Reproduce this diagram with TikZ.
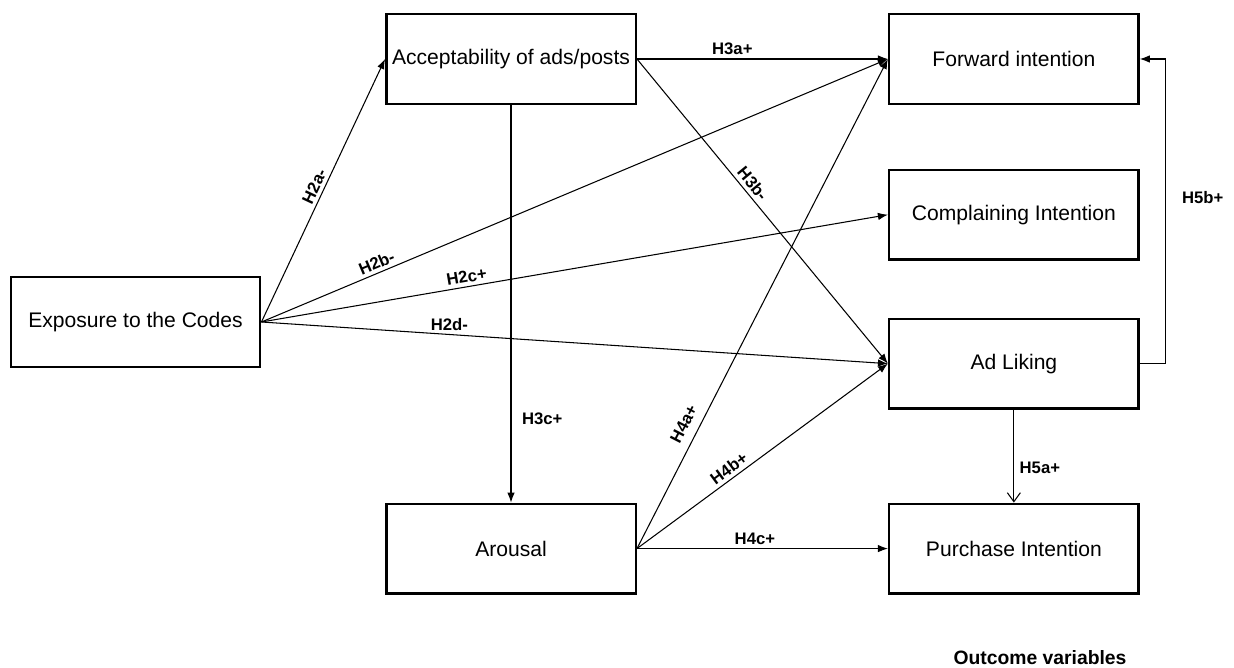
\documentclass[tikz,border=0pt]{standalone}
\usepackage{fontspec}
\setmainfont{Liberation Sans}
\usetikzlibrary{positioning,calc,arrows.meta}

\begin{document}
\begin{tikzpicture}[
  x=0.02cm, y=-0.02cm,
  >={Latex[length=2mm,width=1.5mm]},
  node distance=1.28cm and 5.02cm,
  every node/.style={font=\fontsize{12}{14}\selectfont, align=center},
  box/.style={draw, line width=1.4pt, minimum width=4.99cm, minimum height=1.79cm, inner sep=3pt},
  link/.style={->, line width=0.6pt},
  hyp/.style={font=\fontsize{9.5}{11}\selectfont\bfseries, inner sep=2pt}
]
\useasboundingbox (0,0) rectangle (1234,668);

\node[box] (expo) at (135.5,322) {Exposure to the Codes};

\node[box] (accept) at (511,59) {Acceptability of ads/posts};
\node[box, right=of accept] (fwd) {Forward intention};
\node[box, below=1.276cm of fwd] (compl) {Complaining Intention};
\node[box, below=1.14cm of compl] (liking) {Ad Liking};
\node[box, below=1.86cm of liking] (purch) {Purchase Intention};
\node[box, left=of purch] (arousal) {Arousal};

\node[font=\fontsize{11}{13}\selectfont\bfseries] (outcome) at (1040,658) {Outcome variables};

\draw[link] (expo.east) -- (accept.west) node[hyp, pos=0.5, above, sloped] {H2a-};
\draw[link] (expo.east) -- (fwd.west) node[hyp, pos=0.19, above, sloped] {H2b-};
\draw[link] (expo.east) -- (compl.west) node[hyp, pos=0.33, above, sloped] {H2c+};
\draw[link] (expo.east) -- (liking.west) node[hyp, pos=0.3, above] {H2d-};

\draw[link] (accept.east) -- (fwd.west) node[hyp, pos=0.38, above] {H3a+};
\draw[link] (accept.east) -- (liking.west) node[hyp, pos=0.43, above, sloped] {H3b-};
\draw[link] (accept.south) -- (arousal.north) node[hyp, pos=0.79, right=4pt] {H3c+};

\draw[link] (arousal.east) -- (fwd.west) node[hyp, pos=0.24, above=3pt, sloped] {H4a+};
\draw[link] (arousal.east) -- (liking.west) node[hyp, pos=0.39, above, sloped] {H4b+};
\draw[link] (arousal.east) -- (purch.west) node[hyp, pos=0.47, above] {H4c+};

\draw[line width=0.6pt, -{Straight Barb[length=1.8mm,width=2.6mm]}] (liking.south) -- (purch.north)
  node[hyp, pos=0.63, right=1pt] {H5a+};
\draw[link] (liking.east) -- ([xshift=0.52cm]liking.east) |- (fwd.east)
  node[hyp, pos=0.273, right=7pt] {H5b+};

\end{tikzpicture}
\end{document}
